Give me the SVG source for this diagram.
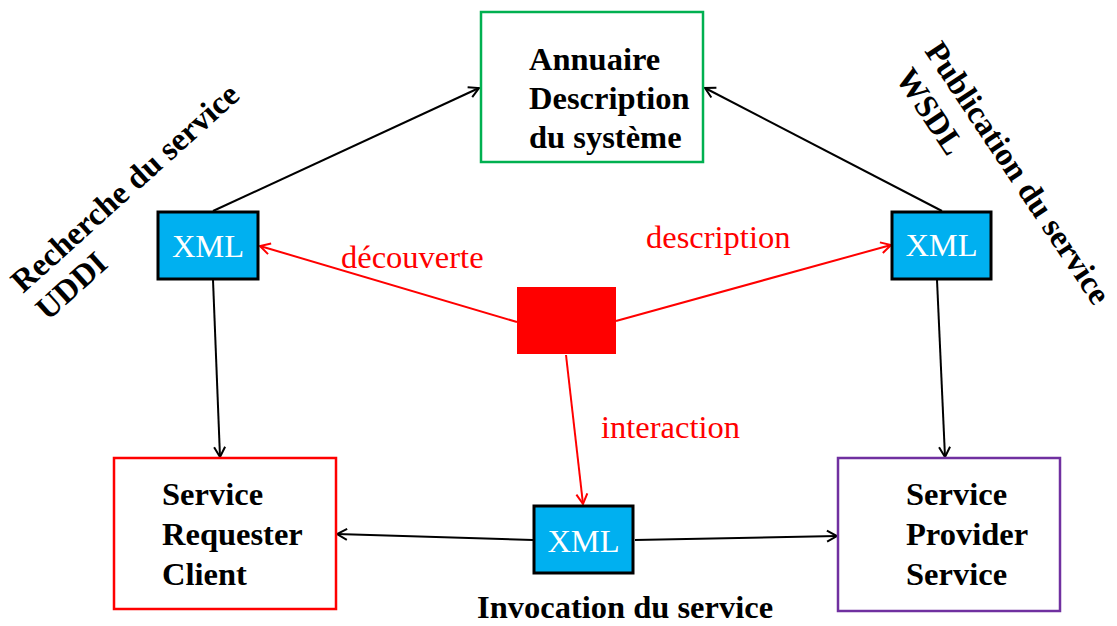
<svg xmlns="http://www.w3.org/2000/svg" width="1117" height="626" viewBox="0 0 1117 626">
  <defs>
    <style>
      .lbl { font-family: "Liberation Serif", "Times New Roman", serif; font-size: 32.5px; }
      .bold { font-weight: bold; fill: #000; }
      .xml { fill: #fff; text-anchor: middle; }
      .red { fill: #ff0000; }
      .xmlbox { fill: #00b0f0; stroke: #000; stroke-width: 3; }
      .conn { fill: none; stroke: #000; stroke-width: 2; }
      .conn.r { stroke: #ff0000; }
    </style>
    <marker id="ah" markerUnits="userSpaceOnUse" markerWidth="14" markerHeight="14" refX="12" refY="7" orient="auto">
      <path d="M2,1.5 L12,7 L2,12.5" fill="none" stroke="#000" stroke-width="2"/>
    </marker>
    <marker id="ahr" markerUnits="userSpaceOnUse" markerWidth="14" markerHeight="14" refX="12" refY="7" orient="auto">
      <path d="M2,1.5 L12,7 L2,12.5" fill="none" stroke="#ff0000" stroke-width="2"/>
    </marker>
  </defs>
  <rect width="1117" height="626" fill="#fff"/>

  <!-- connectors -->
  <g id="connectors">
    <path class="conn" d="M213,211 L479,88" marker-end="url(#ah)"/>
    <path class="conn" d="M942,211 L705,88" marker-end="url(#ah)"/>
    <path class="conn" d="M213,280 L220,457" marker-end="url(#ah)"/>
    <path class="conn" d="M937,280 L945,457" marker-end="url(#ah)"/>
    <path class="conn" d="M533,540 L337,534" marker-end="url(#ah)"/>
    <path class="conn" d="M635,540 L837,536" marker-end="url(#ah)"/>
    <path class="conn r" d="M517,322 L260,246" marker-end="url(#ahr)"/>
    <path class="conn r" d="M616,321 L891,245" marker-end="url(#ahr)"/>
    <path class="conn r" d="M566,355 L583,504" marker-end="url(#ahr)"/>
  </g>

  <!-- directory -->
  <g id="annuaire">
    <rect x="481" y="12" width="222" height="150" fill="#fff" stroke="#00b050" stroke-width="2.5"/>
    <text class="lbl bold" x="529" y="70">Annuaire</text>
    <text class="lbl bold" x="529" y="109">Description</text>
    <text class="lbl bold" x="529" y="148">du système</text>
  </g>

  <g id="requester">
    <rect x="114" y="458" width="222" height="151" fill="#fff" stroke="#ff0000" stroke-width="2.5"/>
    <text class="lbl bold" x="162" y="505">Service</text>
    <text class="lbl bold" x="162" y="545">Requester</text>
    <text class="lbl bold" x="162" y="585">Client</text>
  </g>

  <g id="provider">
    <rect x="838" y="458" width="222" height="153" fill="#fff" stroke="#7030a0" stroke-width="2.5"/>
    <text class="lbl bold" x="906" y="505">Service</text>
    <text class="lbl bold" x="906" y="545">Provider</text>
    <text class="lbl bold" x="906" y="585">Service</text>
  </g>

  <g id="xml-left">
    <rect class="xmlbox" x="158" y="212" width="100" height="67"/>
    <text class="lbl xml" x="208" y="257">XML</text>
  </g>
  <g id="xml-right">
    <rect class="xmlbox" x="892" y="212" width="99" height="67"/>
    <text class="lbl xml" x="941.5" y="256">XML</text>
  </g>
  <g id="xml-bottom">
    <rect class="xmlbox" x="534" y="506" width="99" height="67"/>
    <text class="lbl xml" x="583.5" y="552">XML</text>
  </g>

  <g id="hub">
    <rect x="517" y="287" width="99" height="67" fill="#ff0000"/>
  </g>

  <!-- edge labels -->
  <g id="labels">
    <text class="lbl red" x="341" y="268">découverte</text>
    <text class="lbl red" x="646" y="248">description</text>
    <text class="lbl red" x="601" y="438">interaction</text>
    <text class="lbl bold" x="477" y="618">Invocation du service</text>
    <g transform="translate(23,294) rotate(-42)">
      <text class="lbl bold" x="0" y="0">Recherche du service</text>
      <text class="lbl bold" x="0" y="37">UDDI</text>
    </g>
    <g transform="translate(924,51) rotate(56.4)">
      <text class="lbl bold" x="0" y="0" font-size="32">Publication du service</text>
      <text class="lbl bold" x="6" y="39">WSDL</text>
    </g>
  </g>
</svg>
